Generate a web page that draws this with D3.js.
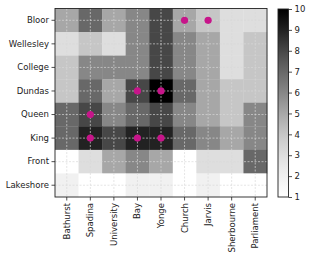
<!DOCTYPE html>
<html>
<head>
<meta charset="utf-8">
<script src="https://cdn.jsdelivr.net/npm/d3@7"></script>
<style>
  body { margin: 0; background: #fff; }
  svg { display: block; font-family: "DejaVu Sans", sans-serif; }
</style>
</head>
<body>
<figure id="heatmap" style="margin:0"></figure>
<script>
const streets = ["Bloor", "Wellesley", "College", "Dundas", "Queen", "King", "Front", "Lakeshore"];
const avenues = ["Bathurst", "Spadina", "University", "Bay", "Yonge", "Church", "Jarvis", "Sherbourne", "Parliament"];

// one row per street, one value per avenue
const values = [
  [5, 7, 5, 6, 8, 5, 4, 3, 3],
  [3, 4, 3, 6, 8, 6, 5, 3, 4],
  [4, 6, 6, 6, 8, 6, 5, 3, 4],
  [4, 7, 5, 8, 10, 7, 5, 4, 4],
  [7, 8, 6, 7, 8, 6, 5, 4, 6],
  [7, 9, 8, 9, 9, 7, 6, 5, 6],
  [1, 3, 5, 6, 5, 1, 3, 3, 7],
  [2, 1, 1, 2, 2, 1, 2, 1, 1]
];

const markers = [
  ["Bloor", "Church"], ["Bloor", "Jarvis"],
  ["Dundas", "Bay"], ["Dundas", "Yonge"],
  ["Queen", "Spadina"],
  ["King", "Spadina"], ["King", "Bay"], ["King", "Yonge"]
];

const colorTicks = [1, 2, 3, 4, 5, 6, 7, 8, 9, 10];

const width = 310, height = 258;
const margin = { top: 8.5, left: 55, right: 43, bottom: 61 };
const plotW = width - margin.left - margin.right;   // 212
const plotH = height - margin.top - margin.bottom;  // 188.5

const svg = d3.select("figure#heatmap")
  .append("svg")
  .attr("width", width)
  .attr("height", height);

const x = d3.scaleBand().domain(avenues).range([margin.left, margin.left + plotW]).padding(0);
const y = d3.scaleBand().domain(streets).range([margin.top, margin.top + plotH]).padding(0);
const color = v => d3.interpolateGreys((v - 1) / 9);

// cells
const cells = [];
values.forEach((row, i) => row.forEach((v, j) => cells.push({ s: streets[i], a: avenues[j], v })));

svg.append("g")
  .selectAll("rect")
  .data(cells)
  .join("rect")
  .attr("x", d => x(d.a))
  .attr("y", d => y(d.s))
  .attr("width", x.bandwidth() + 0.3)
  .attr("height", y.bandwidth() + 0.3)
  .attr("fill", d => color(d.v));

// dashed grid through cell centres
const grid = svg.append("g")
  .attr("stroke", "#d8d8d8")
  .attr("stroke-opacity", 0.85)
  .attr("stroke-width", 0.8)
  .attr("stroke-dasharray", "2,1.5");

grid.selectAll(".gx")
  .data(avenues)
  .join("line")
  .attr("class", "gx")
  .attr("x1", d => x(d) + x.bandwidth() / 2)
  .attr("x2", d => x(d) + x.bandwidth() / 2)
  .attr("y1", margin.top)
  .attr("y2", margin.top + plotH);

grid.selectAll(".gy")
  .data(streets)
  .join("line")
  .attr("class", "gy")
  .attr("y1", d => y(d) + y.bandwidth() / 2)
  .attr("y2", d => y(d) + y.bandwidth() / 2)
  .attr("x1", margin.left)
  .attr("x2", margin.left + plotW);

// markers
svg.append("g")
  .selectAll("circle")
  .data(markers)
  .join("circle")
  .attr("cx", d => x(d[1]) + x.bandwidth() / 2)
  .attr("cy", d => y(d[0]) + y.bandwidth() / 2)
  .attr("r", 3.6)
  .attr("fill", "#c7158a");

// frame
svg.append("rect")
  .attr("x", margin.left)
  .attr("y", margin.top)
  .attr("width", plotW)
  .attr("height", plotH)
  .attr("fill", "none")
  .attr("stroke", "#222")
  .attr("stroke-width", 0.9);

// axes
const yAxis = svg.append("g")
  .attr("transform", `translate(${margin.left},0)`)
  .call(d3.axisLeft(y).tickSize(3.5).tickPadding(2.5))
  .call(g => g.select(".domain").remove());

const xAxis = svg.append("g")
  .attr("transform", `translate(0,${margin.top + plotH})`)
  .call(d3.axisBottom(x).tickSize(3.5).tickPadding(2.5))
  .call(g => g.select(".domain").remove());

xAxis.selectAll("text")
  .attr("transform", "rotate(-90)")
  .attr("text-anchor", "end")
  .attr("dy", "0.35em")
  .attr("x", -6)
  .attr("y", 0);

[xAxis, yAxis].forEach(g => {
  g.selectAll("text").attr("font-size", 8.5).attr("fill", "#222").attr("font-family", "DejaVu Sans");
  g.selectAll("line").attr("stroke", "#222").attr("stroke-width", 0.8);
});

// colorbar
const cb = { x: 278, w: 10.5, top: margin.top + 0.5, bottom: margin.top + plotH };
const defs = svg.append("defs");
const grad = defs.append("linearGradient")
  .attr("id", "cbgrad")
  .attr("x1", 0).attr("x2", 0).attr("y1", 1).attr("y2", 0);
d3.range(0, 1.001, 0.05).forEach(t => {
  grad.append("stop").attr("offset", t).attr("stop-color", d3.interpolateGreys(t));
});

const cScale = d3.scaleLinear().domain([1, 10]).range([cb.bottom, cb.top]);

svg.append("rect")
  .attr("x", cb.x)
  .attr("y", cb.top)
  .attr("width", cb.w)
  .attr("height", cb.bottom - cb.top)
  .attr("fill", "url(#cbgrad)")
  .attr("stroke", "#222")
  .attr("stroke-width", 0.9);

const cAxis = svg.append("g")
  .attr("transform", `translate(${cb.x + cb.w},0)`)
  .call(d3.axisRight(cScale).tickValues(colorTicks).tickFormat(d3.format("d")).tickSize(3.5).tickPadding(2.5))
  .call(g => g.select(".domain").remove());

cAxis.selectAll("text").attr("font-size", 8.5).attr("fill", "#222").attr("font-family", "DejaVu Sans");
cAxis.selectAll("line").attr("stroke", "#222").attr("stroke-width", 0.8);
</script>
</body>
</html>
